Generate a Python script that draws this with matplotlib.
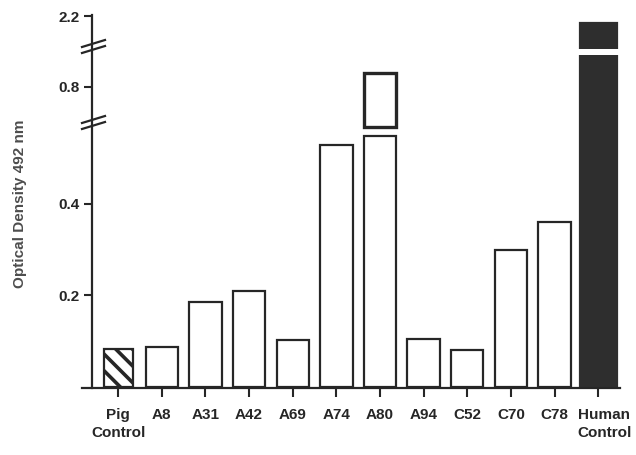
import matplotlib
matplotlib.use('Agg')
import matplotlib.pyplot as plt
import matplotlib.transforms as mtransforms
from matplotlib.lines import Line2D
from matplotlib.patches import Polygon

labels = ['Pig\nControl', 'A8', 'A31', 'A42', 'A69', 'A74', 'A80', 'A94',
          'C52', 'C70', 'C78', 'Human\nControl']
od_values = [0.083, 0.087, 0.186, 0.21, 0.103, 0.529, 0.549, 0.105,
             0.081, 0.299, 0.361, 2.135]
a80_upper = (0.586, 0.874)  # box drawn above the lower break
low_ticks = [0.2, 0.4]
mid_ticks = [0.8]
top_ticks = [2.2]

W, H = 636, 455
INK = '#262626'
plt.rcParams['font.family'] = ['Liberation Sans', 'DejaVu Sans']
plt.rcParams['font.weight'] = 'bold'
plt.rcParams['hatch.linewidth'] = 2.6
plt.rcParams['hatch.color'] = INK

fig = plt.figure(figsize=(W / 100, H / 100), dpi=100)


def px_box(x0, y_top, x1, y_bottom):
    return [x0 / W, 1 - y_bottom / H, (x1 - x0) / W, (y_bottom - y_top) / H]


def px(x, y):
    return x / W, 1 - y / H


ax_low = fig.add_axes(px_box(92, 130, 620, 387))
ax_mid = fig.add_axes(px_box(92, 55, 620, 130))
ax_top = fig.add_axes(px_box(92, 15, 620, 49))

x = list(range(len(labels)))
widths = [0.66] + [0.74] * 10 + [0.85]
faces = ['white'] * 11 + ['#2e2e2e']
edges = [INK] * 11 + ['#2e2e2e']

for ax, ylim, ticks in [(ax_low, (0, 0.5617), low_ticks),
                        (ax_mid, (0.57, 0.97), mid_ticks),
                        (ax_top, (1.9, 2.21), top_ticks)]:
    bars = ax.bar(x, od_values, width=widths, color=faces, edgecolor=edges,
                  linewidth=1.6)
    bars[0].set_hatch('\\\\')
    ax.set_xlim(-0.6, 11.5)
    ax.set_ylim(*ylim)
    ax.set_yticks(ticks)
    ax.set_yticklabels([f'{t:.1f}' for t in ticks])
    ax.tick_params(axis='y', direction='out', length=6, width=1.5,
                   color=INK, labelcolor=INK, labelsize=11, pad=3)
    for s in ax.spines.values():
        s.set_visible(False)
    ax.patch.set_alpha(0)
    if ax is not ax_low:
        ax.set_xticks([])

ax_mid.bar(6, a80_upper[1] - a80_upper[0], bottom=a80_upper[0], width=0.74,
           color='white', edgecolor=INK, linewidth=2.4)

ax_low.set_xticks(x)
ax_low.set_xticklabels(labels)
ax_low.tick_params(axis='x', direction='out', length=7, width=1.5,
                   color=INK, labelcolor=INK, labelsize=11, pad=8)
for lab in ax_low.get_xticklabels():
    lab.set_linespacing(1.4)
human = ax_low.get_xticklabels()[-1]
human.set_transform(human.get_transform() +
                    mtransforms.ScaledTranslation(0.06, 0, fig.dpi_scale_trans))

# continuous y spine and baseline
fig.add_artist(Line2D(*zip(px(92, 15), px(92, 388)), color=INK, lw=1.6))
fig.add_artist(Line2D(*zip(px(82, 388), px(620, 388)), color=INK, lw=1.6))

# break marks on the y axis
for yc in [47, 123]:
    poly = Polygon([px(82, yc), px(105, yc - 7), px(105, yc - 1), px(82, yc + 6)],
                   closed=True, facecolor='white', edgecolor='none',
                   transform=fig.transFigure)
    fig.add_artist(poly)
    for d in (0, 6):
        fig.add_artist(Line2D(*zip(px(82, yc + d), px(105, yc - 7 + d)),
                              color=INK, lw=1.6))

fig.text(20 / W, 1 - 204 / H, 'Optical Density 492 nm', rotation=90,
         ha='center', va='center', fontsize=11, color='#4d4d4d')

fig.savefig('out.png', dpi=100)
